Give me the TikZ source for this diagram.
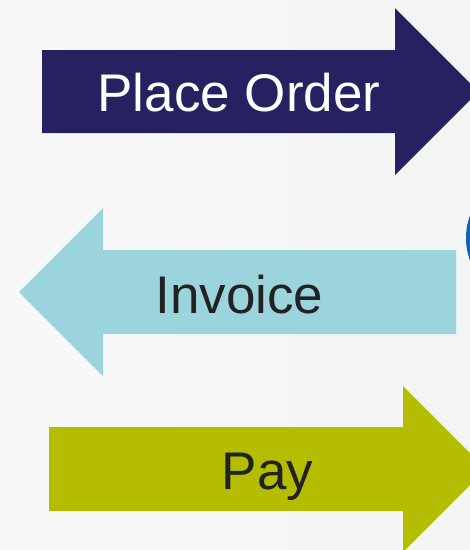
\documentclass[tikz,border=0pt]{standalone}
\usepackage{fontspec}
\setmainfont{Liberation Sans}
\definecolor{navy}{HTML}{262262}
\definecolor{lblue}{HTML}{9CD4DD}
\definecolor{olive}{HTML}{B5BD00}
\definecolor{txtdark}{HTML}{222222}
\definecolor{bgl}{HTML}{F8F8F8}
\definecolor{bgr}{HTML}{F3F4F4}
\definecolor{circblue}{HTML}{1060B8}
\begin{document}
\begin{tikzpicture}[x=1pt,y=-1pt,
  lbl/.style={anchor=base,inner sep=0pt,font=\fontsize{53}{60}\selectfont}]
\useasboundingbox (0,0) rectangle (470,550);
\clip (0,0) rectangle (470,550);
\shade[left color=bgl,right color=bgr] (0,0) rectangle (470,550);
% partial blue circle
\fill[circblue] (531,238) circle (65);
% Place Order arrow
\fill[navy] (42,50) -- (395,50) -- (395,8) -- (478.5,91.5) -- (395,175) -- (395,133) -- (42,133) -- cycle;
\node[lbl,text=white] (order) at (239,111) {Place Order};
% Invoice arrow
\fill[lblue] (456,250) -- (103,250) -- (103,208) -- (19,292) -- (103,376) -- (103,334) -- (456,334) -- cycle;
\node[lbl,text=txtdark] (invoice) at (239.5,313) {Invoice};
% Pay arrow
\fill[olive] (49,427) -- (403,427) -- (403,386) -- (486,469) -- (403,552) -- (403,511) -- (49,511) -- cycle;
\node[lbl,text=txtdark] (pay) at (267.5,489) {Pay};
\end{tikzpicture}
\end{document}
